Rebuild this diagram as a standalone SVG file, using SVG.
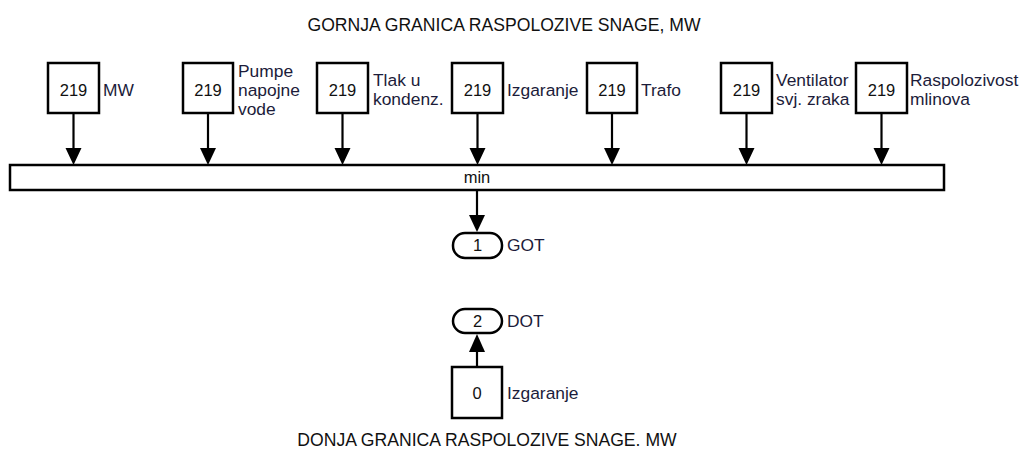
<svg xmlns="http://www.w3.org/2000/svg" width="1021" height="450" viewBox="0 0 1021 450">
<style>
.box{fill:#fff;stroke:#000;stroke-width:2.5}
.bar{fill:#fff;stroke:#000;stroke-width:2.5}
.pill{fill:#fff;stroke:#000;stroke-width:2.5}
.num{font-family:"Liberation Sans",Arial,sans-serif;font-size:16.5px;fill:#111;text-anchor:middle}
.lbl{font-family:"Liberation Sans",Arial,sans-serif;font-size:17.4px;fill:#1c1c3a}
.ttl{font-family:"Liberation Sans",Arial,sans-serif;font-size:17.6px;fill:#111;text-anchor:middle}
.wire{stroke:#000;stroke-width:2.2;fill:none}
.head{fill:#000}
</style>
<rect width="1021" height="450" fill="#fff"/>
<text class="ttl" x="504" y="31">GORNJA GRANICA RASPOLOZIVE SNAGE, MW</text>
<text class="ttl" x="487" y="446">DONJA GRANICA RASPOLOZIVE SNAGE. MW</text>

<g id="connectors">
  <line class="wire" x1="73.5" y1="113" x2="73.5" y2="150"/><polygon class="head" points="65.5,148 81.5,148 73.5,165"/>
  <line class="wire" x1="208" y1="113" x2="208" y2="150"/><polygon class="head" points="200,148 216,148 208,165"/>
  <line class="wire" x1="342.5" y1="113" x2="342.5" y2="150"/><polygon class="head" points="334.5,148 350.5,148 342.5,165"/>
  <line class="wire" x1="477.5" y1="113" x2="477.5" y2="150"/><polygon class="head" points="469.5,148 485.5,148 477.5,165"/>
  <line class="wire" x1="612" y1="113" x2="612" y2="150"/><polygon class="head" points="604,148 620,148 612,165"/>
  <line class="wire" x1="746.5" y1="113" x2="746.5" y2="150"/><polygon class="head" points="738.5,148 754.5,148 746.5,165"/>
  <line class="wire" x1="881.5" y1="113" x2="881.5" y2="150"/><polygon class="head" points="873.5,148 889.5,148 881.5,165"/>
  <line class="wire" x1="477" y1="190" x2="477" y2="217"/><polygon class="head" points="469,215 485,215 477,232"/>
  <line class="wire" x1="477" y1="367" x2="477" y2="350"/><polygon class="head" points="469,352 485,352 477,334"/>
</g>

<g id="n1"><rect class="box" x="48" y="63" width="51" height="50"/><text class="num" x="73.5" y="96">219</text><text class="lbl" x="103" y="96">MW</text></g>
<g id="n2"><rect class="box" x="183" y="63" width="50" height="50"/><text class="num" x="208" y="96">219</text><text class="lbl" x="238" y="77">Pumpe</text><text class="lbl" x="238" y="96">napojne</text><text class="lbl" x="238" y="115">vode</text></g>
<g id="n3"><rect class="box" x="317" y="63" width="51" height="50"/><text class="num" x="342.5" y="96">219</text><text class="lbl" x="373" y="86">Tlak u</text><text class="lbl" x="373" y="105">kondenz.</text></g>
<g id="n4"><rect class="box" x="452" y="63" width="51" height="50"/><text class="num" x="477.5" y="96">219</text><text class="lbl" x="507" y="96">Izgaranje</text></g>
<g id="n5"><rect class="box" x="587" y="63" width="50" height="50"/><text class="num" x="612" y="96">219</text><text class="lbl" x="641" y="96">Trafo</text></g>
<g id="n6"><rect class="box" x="721" y="63" width="51" height="50"/><text class="num" x="746.5" y="96">219</text><text class="lbl" x="776" y="86">Ventilator</text><text class="lbl" x="776" y="105">svj. zraka</text></g>
<g id="n7"><rect class="box" x="856" y="63" width="51" height="50"/><text class="num" x="881.5" y="96">219</text><text class="lbl" x="910" y="86">Raspolozivost</text><text class="lbl" x="910" y="105">mlinova</text></g>

<g id="min"><rect class="bar" x="10" y="165" width="934" height="25"/><text class="num" x="477" y="183">min</text></g>

<g id="got"><rect class="pill" x="453" y="233" width="49" height="25" rx="12" ry="12"/><text class="num" x="477.5" y="251">1</text><text class="lbl" x="507" y="251">GOT</text></g>
<g id="dot"><rect class="pill" x="453" y="309" width="49" height="24" rx="12" ry="12"/><text class="num" x="477.5" y="327">2</text><text class="lbl" x="507" y="327">DOT</text></g>
<g id="n0"><rect class="box" x="452" y="367" width="50" height="51"/><text class="num" x="477" y="399">0</text><text class="lbl" x="507" y="399">Izgaranje</text></g>
</svg>
